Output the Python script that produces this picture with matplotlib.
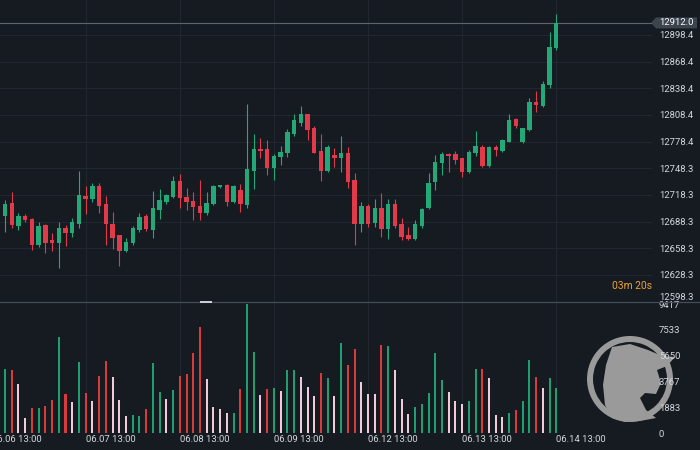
"""Hourly candlestick chart with volume pane, dark trading-terminal style."""
import matplotlib
matplotlib.use("Agg")
import matplotlib.pyplot as plt
import numpy as np
from matplotlib.patches import Polygon, Wedge
from matplotlib.transforms import IdentityTransform
from matplotlib.lines import Line2D

plt.rcParams["font.family"] = ["Roboto", "DejaVu Sans"]

# ---- data (hourly candles, 14 per session) ----
opens = [
    12694.8, 12709.4, 12683.6, 12694.8, 12691.4, 12662.2, 12684.7, 12667.8, 12664.4, 12681.3,
    12675.7, 12685.8, 12717.3, 12713.9, 12728.5, 12708.3, 12685.8, 12673.4, 12655.5, 12664.4,
    12679.0, 12694.8, 12679.0, 12701.6, 12710.5, 12716.2, 12734.2, 12716.2, 12711.6, 12706.0,
    12698.2, 12708.3, 12726.9, 12729.7, 12710.5, 12724.0, 12707.2, 12745.4, 12770.2, 12770.2,
    12748.8, 12761.2, 12765.7, 12787.0, 12799.4, 12809.6, 12793.8, 12767.9, 12745.4, 12763.4,
    12760.0, 12765.7, 12735.3, 12685.8, 12706.0, 12686.9, 12703.8, 12680.2, 12708.3, 12685.8,
    12673.4, 12668.9, 12683.6, 12703.8, 12733.1, 12754.5, 12764.6, 12764.6, 12760.0, 12744.3,
    12765.7, 12772.4, 12751.0, 12772.4, 12767.9, 12778.1, 12803.9, 12778.1, 12791.5, 12823.1,
    12818.5, 12842.2, 12883.8,
]
highs = [
    12712.8, 12721.8, 12698.2, 12697.1, 12692.6, 12688.1, 12685.8, 12675.7, 12688.1, 12684.7,
    12692.6, 12745.4, 12728.5, 12731.9, 12731.9, 12717.3, 12699.3, 12673.4, 12670.0, 12683.6,
    12698.2, 12697.1, 12722.9, 12725.2, 12719.5, 12739.8, 12742.0, 12726.3, 12721.8, 12735.3,
    12721.8, 12729.7, 12729.7, 12730.8, 12729.7, 12730.8, 12820.8, 12787.0, 12782.5, 12780.3,
    12764.6, 12773.6, 12792.7, 12809.6, 12818.6, 12809.6, 12796.1, 12787.0, 12774.7, 12771.3,
    12784.8, 12772.4, 12743.2, 12710.5, 12708.3, 12713.9, 12720.7, 12713.9, 12713.9, 12692.6,
    12682.4, 12690.3, 12703.8, 12743.2, 12763.4, 12766.8, 12765.7, 12767.9, 12760.0, 12769.0,
    12790.4, 12774.7, 12773.6, 12774.7, 12781.4, 12809.6, 12805.1, 12793.8, 12827.6, 12835.4,
    12846.7, 12901.8, 12922.0,
]
lows = [
    12676.8, 12681.3, 12679.0, 12688.1, 12656.6, 12659.9, 12653.2, 12655.5, 12636.3, 12661.0,
    12671.2, 12681.3, 12697.1, 12710.5, 12698.2, 12662.2, 12657.7, 12638.5, 12654.3, 12662.2,
    12676.8, 12677.9, 12670.0, 12691.4, 12708.3, 12715.0, 12703.8, 12701.6, 12690.3, 12690.3,
    12695.9, 12707.2, 12726.3, 12706.0, 12709.4, 12699.3, 12703.8, 12725.2, 12760.0, 12740.9,
    12735.3, 12752.2, 12761.2, 12784.8, 12796.1, 12780.3, 12765.7, 12734.2, 12744.3, 12750.0,
    12744.3, 12726.3, 12662.2, 12676.8, 12682.4, 12682.4, 12671.2, 12668.9, 12681.3, 12667.8,
    12667.8, 12667.8, 12681.3, 12702.7, 12724.0, 12740.9, 12744.3, 12753.3, 12738.7, 12743.2,
    12762.3, 12750.0, 12750.0, 12762.3, 12766.8, 12778.1, 12793.8, 12776.9, 12790.4, 12811.8,
    12817.4, 12838.8, 12881.6,
]
closes = [
    12708.3, 12684.7, 12694.8, 12690.3, 12662.2, 12683.6, 12664.4, 12664.4, 12681.3, 12675.7,
    12688.1, 12718.4, 12713.9, 12728.5, 12706.0, 12685.8, 12670.0, 12655.5, 12665.5, 12681.3,
    12693.7, 12679.6, 12703.8, 12712.8, 12718.4, 12734.2, 12715.0, 12710.5, 12704.9, 12698.2,
    12709.4, 12728.5, 12729.1, 12710.5, 12728.5, 12708.3, 12747.7, 12770.2, 12767.9, 12748.8,
    12762.3, 12766.8, 12789.3, 12802.8, 12809.6, 12791.5, 12765.7, 12745.4, 12772.4, 12760.0,
    12765.7, 12733.1, 12685.8, 12706.0, 12685.8, 12703.8, 12680.2, 12708.3, 12683.6, 12671.2,
    12668.9, 12685.8, 12702.7, 12731.9, 12755.6, 12764.6, 12762.3, 12757.8, 12744.3, 12766.8,
    12773.6, 12751.0, 12772.4, 12769.0, 12780.3, 12802.8, 12796.1, 12793.8, 12823.1, 12819.7,
    12843.3, 12884.9, 12912.0,
]
volumes = [
    4696, 4599, 3601, 1144, 1825, 1874, 1995, 2433, 7008, 2896,
    2287, 5207, 2944, 2360, 4185, 5280, 4112, 2458, 1265, 1314,
    1265, 1800, 5085, 3017, 2482, 3163, 4185, 4355, 5839, 7713,
    3966, 1946, 1752, 1460, 1460, 3212, 9417, 5912, 2798, 3212,
    3285, 3114, 4647, 4647, 4112, 3382, 2725, 4379, 4039, 2725,
    6594, 4963, 6107, 3747, 2896, 2896, 6448, 6350, 4647, 2506,
    1411, 1946, 2117, 2944, 5839, 3917, 3041, 2384, 2165, 2336,
    4696, 4696, 4039, 1362, 1216, 1508, 1727, 2336, 5328, 4136,
    3333, 4063, 3285,
]
# G = up, R = down, P = pale bar
vol_kind = ("GRPPRGRRGR" "PGRPRRPPPG" "GRGGPGRRRR" "PPPPGRGGPR" "GPGGPPPRGP"
            "GRRPPPRGPP" "PGGGGGPPPG" "GRPPPGRGGR" "PGG")

day_ticks = [-1, 13, 27, 41, 55, 69, 83]
day_labels = ["06.06 13:00", "06.07 13:00", "06.08 13:00", "06.09 13:00",
              "06.12 13:00", "06.13 13:00", "06.14 13:00"]
price_ticks = [12628.3, 12658.3, 12688.3, 12718.3, 12748.3,
               12778.4, 12808.4, 12838.4, 12868.4, 12898.4]
price_bottom = 12598.3
vol_ticks = [0, 1883, 3767, 5650, 7533, 9417]
countdown = "03m 20s"

# ---- style ----
BG = "#161b22"
GRID = "#20272f"
TXT = "#d4d7db"
UP = "#24a878"
DOWN = "#e13a4b"
VCOL = {"G": "#1f9f70", "R": "#d93a3c", "P": "#f3cad9"}

W, H = 700, 450
fig = plt.figure(figsize=(W / 100, H / 100), dpi=100, facecolor=BG)
split, vbot, right = 301.5, 433.3, 652
ax = fig.add_axes([0, 1 - split / H, right / W, split / H], facecolor=BG)
axv = fig.add_axes([0, 1 - vbot / H, right / W, (vbot - split) / H], facecolor=BG)

o, h, l, c = map(np.array, (opens, highs, lows, closes))
x = np.arange(1, len(o) + 1)
cols = np.where(c >= o, UP, DOWN)

ax.vlines(x, l, h, colors=cols, linewidth=0.8, zorder=2)
ax.bar(x, np.maximum(np.abs(c - o), 1.0), bottom=np.minimum(o, c), width=0.66,
       color=cols, linewidth=0, zorder=3)

for a in (ax, axv):
    a.set_xlim(0.256, 97.24)
    for s in a.spines.values():
        s.set_visible(False)
    a.set_xticks(day_ticks[1:])
    a.tick_params(axis="x", length=0, labelbottom=False)
    a.yaxis.tick_right()
    a.tick_params(axis="y", length=0, pad=5, labelsize=6.8, labelcolor=TXT)
    a.set_axisbelow(True)

ax.set_ylim(price_bottom, 12937.8)
ax.set_yticks(price_ticks)
ax.set_yticklabels([f"{p:.1f}" for p in price_ticks])
ax.grid(True, color=GRID, linewidth=0.8)
ax.annotate(f"{price_bottom:.1f}", xy=(1, price_bottom),
            xycoords=("axes fraction", "data"), xytext=(7, 4.5),
            textcoords="offset pixels", ha="left", va="center",
            fontsize=6.8, color=TXT, annotation_clip=False)

# last price line and tag
last = c[-1]
ax.axhline(last, color="#5d656e", linewidth=0.8, zorder=1.8)
_, yp = ax.transData.transform((0, last))
tag = Polygon([(651, yp), (656, yp + 5.5), (697, yp + 5.5), (697, yp - 5.5), (656, yp - 5.5)],
              closed=True, transform=IdentityTransform(), facecolor="#3c444d",
              edgecolor="none", clip_on=False)
ax.add_artist(tag)
ax.text(659, yp, f"{last:.1f}", transform=IdentityTransform(), ha="left",
        va="center", fontsize=6.8, color="#ffffff", clip_on=False)

ax.text(1.0, 0.0514, countdown, transform=ax.transAxes, ha="right", va="center",
        fontsize=7.4, color="#eea236")

# volume pane
axv.bar(x, volumes, width=0.3, color=[VCOL[k] for k in vol_kind], linewidth=0)
axv.set_ylim(0, 9600)
axv.set_yticks(vol_ticks)
axv.set_yticklabels([str(v) for v in vol_ticks])
axv.grid(True, axis="x", color=GRID, linewidth=0.8)

for t, lab in zip(day_ticks, day_labels):
    axv.annotate(lab, xy=(t, 0), xycoords=("data", "axes fraction"),
                 xytext=(0, -6), textcoords="offset pixels", ha="left",
                 va="center", fontsize=6.8, color=TXT, annotation_clip=False)

# pane separator and its handle
ysep = 1 - split / H
fig.add_artist(Line2D([0, 1], [ysep, ysep], transform=fig.transFigure,
                      color="#444c55", linewidth=0.9))
fig.add_artist(Line2D([201 / W, 211 / W], [ysep, ysep], transform=fig.transFigure,
                      color="#d0d4d8", linewidth=1.4))

# watermark logo (ring + bull head silhouette), kept under the tick labels
LOGO = "#9a9a9a"
cx, cy = 630, H - 379
axv.add_artist(Wedge((cx, cy), 43, 0, 360, width=6, transform=IdentityTransform(),
                     facecolor=LOGO, edgecolor="none", clip_on=False, zorder=0.2))
head_px = [(612, 347), (630, 344), (648, 350), (662, 356), (675, 357), (667, 366),
           (657, 370), (661, 383), (656, 394), (645, 393), (640, 398), (646, 410),
           (656, 418), (640, 421), (625, 422), (612, 418), (605, 405), (603, 385),
           (606, 365)]
axv.add_artist(Polygon([(px, H - py) for px, py in head_px], closed=True,
                       transform=IdentityTransform(), facecolor=LOGO,
                       edgecolor="none", clip_on=False, zorder=0.2))

fig.savefig("out.png", dpi=100, facecolor=BG)
